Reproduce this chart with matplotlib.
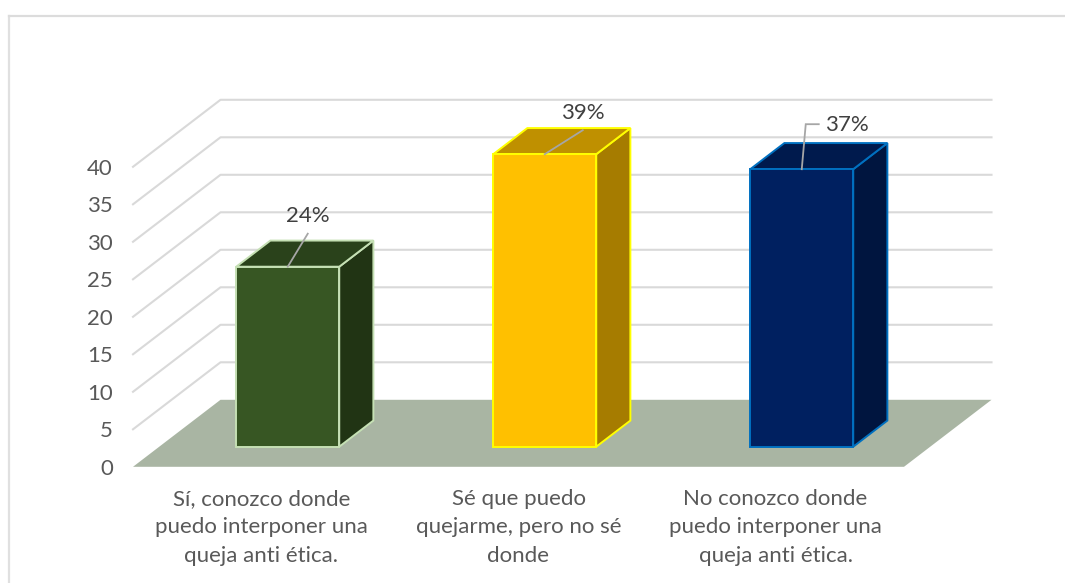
import matplotlib
matplotlib.use("Agg")
import matplotlib.pyplot as plt
from matplotlib.patches import Polygon

plt.rcParams["font.family"] = ["Lato", "DejaVu Sans"]

categories = [
    "Sí, conozco donde\npuedo interponer una\nqueja anti ética.",
    "Sé que puedo\nquejarme, pero no sé\ndonde",
    "No conozco donde\npuedo interponer una\nqueja anti ética.",
]
values = [24, 39, 37]
value_labels = ["24%", "39%", "37%"]
yticks = [0, 5, 10, 15, 20, 25, 30, 35, 40]

front_colors = ["#375623", "#ffc000", "#002060"]
top_colors = ["#2a421b", "#bf9000", "#001a4d"]
side_colors = ["#213414", "#a67c00", "#00153f"]
edge_colors = ["#c5e0b4", "#ffff00", "#0070c0"]

W, H = 1065, 583
PX_CAT = 257.0   # pixels per category
PX_VAL = 7.5     # pixels per value unit
X0 = 261.5       # front centre of first category
Y0 = 466.8       # front floor line
DX = 87.5 / PX_CAT   # floor depth in data units
DY = 67.0 / PX_VAL
BAR_W = 103.0 / PX_CAT
Z0, Z1 = 0.30, 0.69
FS = 16


def proj(x, v, z):
    return x + z * DX, v + z * DY


fig = plt.figure(figsize=(W / 100, H / 100), dpi=100)
ax = fig.add_axes([0, 0, 1, 1])
ax.set_xlim(-X0 / PX_CAT, (W - X0) / PX_CAT)
ax.set_ylim((Y0 - H) / PX_VAL, Y0 / PX_VAL)
ax.axis("off")

# outer chart frame
ax.plot([9 / PX_CAT - X0 / PX_CAT] * 2, [(Y0 - H) / PX_VAL, (Y0 - 16) / PX_VAL],
        color="#e0e0e0", lw=1.6, zorder=1)
ax.plot([9 / PX_CAT - X0 / PX_CAT, (W - X0) / PX_CAT], [(Y0 - 16) / PX_VAL] * 2,
        color="#dcdcdc", lw=1.6, zorder=1)

left, right = -0.5, 2.5

# walls
for t in yticks[1:]:
    a = proj(left, t, 0)
    b = proj(left, t, 1)
    c = proj(right, t, 1)
    ax.plot([a[0], b[0], c[0]], [a[1], b[1], c[1]], color="#d9d9d9", lw=1.5, zorder=2)

# floor
floor = [proj(left, 0, 0), proj(right, 0, 0), proj(right, 0, 1), proj(left, 0, 1)]
ax.add_patch(Polygon(floor, closed=True, facecolor="#a9b5a3", edgecolor="none", zorder=3))

# bars
for i, v in enumerate(values):
    x1, x2 = i - BAR_W / 2, i + BAR_W / 2
    front = [proj(x1, 0, Z0), proj(x2, 0, Z0), proj(x2, v, Z0), proj(x1, v, Z0)]
    top = [proj(x1, v, Z0), proj(x2, v, Z0), proj(x2, v, Z1), proj(x1, v, Z1)]
    side = [proj(x2, 0, Z0), proj(x2, 0, Z1), proj(x2, v, Z1), proj(x2, v, Z0)]
    for pts, col in [(side, side_colors[i]), (top, top_colors[i]), (front, front_colors[i])]:
        ax.add_patch(Polygon(pts, closed=True, facecolor=col, edgecolor=edge_colors[i],
                             lw=1.4, joinstyle="miter", zorder=4))

# data labels and their leader lines, offsets from the middle of the bar's top edge
leaders = [
    [(0, 0), (20 / PX_CAT, 33 / PX_VAL)],
    [(0, 0), (38 / PX_CAT, 24 / PX_VAL)],
    [(0, 0), (4 / PX_CAT, 45 / PX_VAL), (17 / PX_CAT, 45 / PX_VAL)],
]
label_offsets = [(20, 51), (38, 41), (45, 44)]
for i, v in enumerate(values):
    bx, by = proj(i, v, Z0)
    xs = [bx + p[0] for p in leaders[i]]
    ys = [by + p[1] for p in leaders[i]]
    ax.plot(xs, ys, color="#a6a6a6", lw=1.3, zorder=5, solid_joinstyle="miter")
    ox, oy = label_offsets[i]
    ax.text(bx + ox / PX_CAT, by + oy / PX_VAL, value_labels[i], ha="center", va="center",
            fontsize=FS, color="#404040", zorder=6)

# y tick labels
for t in yticks:
    ax.text(-0.5 - 20 / PX_CAT, t - 2 / PX_VAL, str(t), ha="right", va="center",
            fontsize=FS, color="#595959")

# category labels
for i, lab in enumerate(categories):
    ax.text(i, -60.5 / PX_VAL, lab, ha="center", va="center", fontsize=FS,
            color="#595959", linespacing=1.53)

fig.savefig("out.png", dpi=100)
